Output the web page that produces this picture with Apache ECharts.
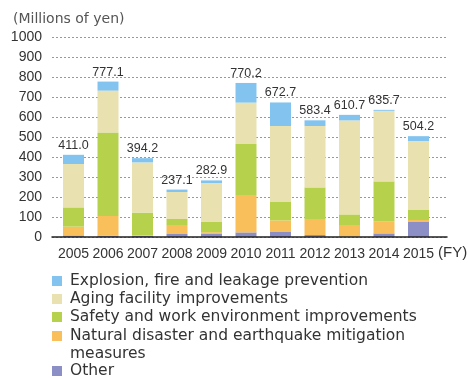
<!DOCTYPE html>
<html><head><meta charset="utf-8">
<script src="https://cdn.jsdelivr.net/npm/echarts@6/dist/echarts.min.js"></script>
<style>html,body{margin:0;padding:0;background:#fff}#c{width:468px;height:378px}</style>
</head><body><div id="c"></div>
<script>
const categories = ['2005','2006','2007','2008','2009','2010','2011','2012','2013','2014','2015'];
const explosion = [46, 45.1, 21.2, 12.1, 12.9, 98.2, 117.7, 28.4, 27.7, 4.7, 24.2];
const aging     = [217, 209, 251, 135, 193, 207, 380, 307, 470, 353, 345];
const safety    = [96, 418, 114, 30, 53, 255, 92, 158, 53, 201, 50];
const natural   = [44, 98, 2, 45, 9, 187, 58, 80, 58, 59, 10];
const other     = [8, 7, 6, 15, 15, 23, 25, 10, 2, 18, 75];
const totals    = [411.0, 777.1, 394.2, 237.1, 282.9, 770.2, 672.7, 583.4, 610.7, 635.7, 504.2];
const yTicks = {min: 0, max: 1000, interval: 100};

const names = ['Explosion, fire and leakage prevention','Aging facility improvements','Safety and work environment improvements','Natural disaster and earthquake mitigation measures','Other'];
const colors = ['#82C4EF','#E9E1AF','#B6D24C','#F8BF5A','#8C8EC6'];
const FONT = "'Liberation Sans',Arial,sans-serif";
const ICON = 'path://M0,0h10v10h-10zM13,10';

function bar(name, data, color, extra){
  return Object.assign({
    name, type:'bar', stack:'total', barWidth:21, data,
    xAxisIndex:0, yAxisIndex:0,
    itemStyle:{color}, emphasis:{disabled:true}
  }, extra||{});
}
const legendBase = {
  orient:'vertical', left:52, padding:0, itemWidth:13, itemHeight:10, itemGap:0,
  icon: ICON, selectedMode:false,
  textStyle:{fontFamily:'DejaVu Sans', fontSize:15.5, color:'#333', lineHeight:18}
};
const chart = echarts.init(document.getElementById('c'), null, {renderer:'canvas'});
chart.setOption({
  animation:false,
  title:[
    {text:'(Millions of yen)', left:13, top:12, padding:0,
      textStyle:{fontFamily:'DejaVu Sans', fontSize:14, fontWeight:'normal', color:'#555'}},
    {text:'(FY)', left:438, top:245, padding:0,
      textStyle:{fontFamily:FONT, fontSize:15, fontWeight:'normal', color:'#333'}}
  ],
  legend:[
    Object.assign({}, legendBase, {top:272, data:[names[0],names[1],names[2]]}),
    Object.assign({}, legendBase, {top:309, data:[names[3]],
      formatter:()=>'\nNatural disaster and earthquake mitigation\nmeasures'}),
    Object.assign({}, legendBase, {top:362, data:[names[4]]})
  ],
  grid:[
    {left:56.25, top:37, width:379.5, height:200},
    {left:52, top:37, width:395, height:200}
  ],
  xAxis:[
    {type:'category', gridIndex:0, data:categories,
      axisLine:{show:false}, axisTick:{show:false}, splitLine:{show:false},
      axisLabel:{interval:0, margin:10, fontFamily:FONT, fontSize:14, color:'#333'}},
    {type:'value', gridIndex:1, min:0, max:1, z:5,
      axisLine:{show:true, onZero:false, lineStyle:{color:'#222', width:1.5}},
      axisTick:{show:false}, axisLabel:{show:false}, splitLine:{show:false}}
  ],
  yAxis:[
    {type:'value', gridIndex:0, min:yTicks.min, max:yTicks.max, interval:yTicks.interval, show:false,
      splitLine:{show:false}},
    {type:'value', gridIndex:1, min:yTicks.min, max:yTicks.max, interval:yTicks.interval,
      axisLine:{show:false}, axisTick:{show:false},
      axisLabel:{margin:10, fontFamily:FONT, fontSize:14, color:'#333', formatter:v=>String(v)},
      splitLine:{lineStyle:{color:'#999', type:[2,2], width:1}}}
  ],
  series:[
    bar(names[4], other, colors[4]),
    bar(names[3], natural, colors[3]),
    bar(names[2], safety, colors[2]),
    bar(names[1], aging, colors[1]),
    bar(names[0], explosion, colors[0], {
      label:{show:true, position:'top', distance:3,
        formatter:p=>totals[p.dataIndex].toFixed(1),
        fontFamily:FONT, fontSize:12.5, color:'#333'}
    })
  ]
});
</script></body></html>
